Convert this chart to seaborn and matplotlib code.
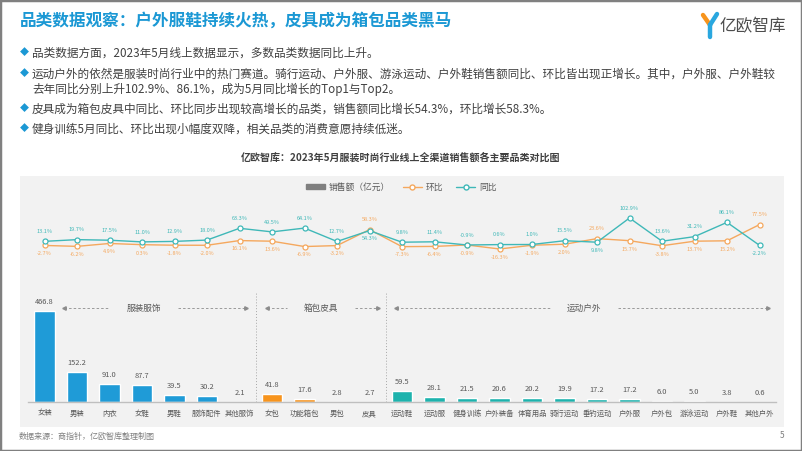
import numpy as np
import pandas as pd
import matplotlib.pyplot as plt
import matplotlib.patches as mpatches
from matplotlib.lines import Line2D
import seaborn as sns

W, H = 802, 451

categories = ["女装", "男装", "内衣", "女鞋", "男鞋", "服饰配件", "其他服饰",
              "女包", "功能箱包", "男包", "皮具",
              "运动鞋", "运动服", "健身训练", "户外装备", "体育用品", "骑行运动",
              "垂钓运动", "户外服", "户外包", "游泳运动", "户外鞋", "其他户外"]
groups = ["服装服饰"] * 7 + ["箱包皮具"] * 4 + ["运动户外"] * 12
sales = [466.8, 152.2, 91.0, 87.7, 39.5, 30.2, 2.1,
         41.8, 17.6, 2.8, 2.7,
         59.5, 28.1, 21.5, 20.6, 20.2, 19.9, 17.2, 17.2, 6.0, 5.0, 3.8, 0.6]
mom = [-2.7, -6.2, 4.9, 0.3, -1.8, -2.0, 16.1,
       13.6, -6.9, -3.2, 58.3,
       -7.3, -6.4, -0.9, -16.3, -1.9, 2.0, 23.6, 15.7, -3.8, 13.7, 15.2, 77.5]
yoy = [13.1, 19.7, 17.5, 11.0, 12.9, 18.0, 63.3,
       49.5, 64.1, 12.7, 54.3,
       9.8, 11.4, -0.9, 0.6, 1.0, 15.5, 9.8, 102.9, 13.6, 31.2, 86.1, -2.2]
section_names = ["服装服饰", "箱包皮具", "运动户外"]

bullets = [
    ["品类数据方面，2023年5月线上数据显示，多数品类数据同比上升。"],
    ["运动户外的依然是服装时尚行业中的热门赛道。骑行运动、户外服、游泳运动、户外鞋销售额同比、环比皆出现正增长。其中，户外服、户外鞋较",
     "去年同比分别上升102.9%、86.1%，成为5月同比增长的Top1与Top2。"],
    ["皮具成为箱包皮具中同比、环比同步出现较高增长的品类，销售额同比增长54.3%，环比增长58.3%。"],
    ["健身训练5月同比、环比出现小幅度双降，相关品类的消费意愿持续低迷。"],
]

BLUE = "#1f9bd7"
ORANGE = "#f7941d"
TEAL = "#1db3ad"
L_ORANGE = "#f5a85e"
L_TEAL = "#3fb8b8"
TXT = "#595959"
palette = {"服装服饰": BLUE, "箱包皮具": ORANGE, "运动户外": TEAL}

sns.set_theme(style="white")
plt.rcParams["font.family"] = ["Noto Sans CJK SC", "DejaVu Sans"]


def fx(px):
    return px / W


def fy(py):
    return 1 - py / H


df = pd.DataFrame({"cat": categories, "group": groups, "sales": sales,
                   "mom": mom, "yoy": yoy})
df["pos"] = np.arange(len(df))

fig = plt.figure(figsize=(W / 100, H / 100), dpi=100)
fig.patch.set_facecolor("white")

# grey chart panel + slide border
fig.add_artist(mpatches.Rectangle((fx(20), fy(427)), fx(784) - fx(20), fy(176) - fy(427),
                                  transform=fig.transFigure, facecolor="#f2f2f2",
                                  edgecolor="none", zorder=0))
fig.add_artist(mpatches.Rectangle((0, 0), 1, 1, transform=fig.transFigure, fill=False,
                                  edgecolor="#808080", lw=2.5, zorder=10))

# title + logo
fig.text(fx(20), fy(21), "品类数据观察：户外服鞋持续火热，皮具成为箱包品类黑马",
         fontsize=12, fontweight="bold", color="#1b98d4", va="center")
for (x0, y0, x1, y1, c) in [(703, 15, 710, 25, ORANGE), (717, 14, 710, 25, "#2aa7df"),
                            (710, 25, 710, 37, "#2aa7df")]:
    fig.add_artist(Line2D([fx(x0), fx(x1)], [fy(y0), fy(y1)], transform=fig.transFigure,
                          color=c, lw=3.2, solid_capstyle="round"))
fig.text(fx(719), fy(27), "亿欧智库", fontsize=12, color="#4d4d4d", va="center")

# bullets
yb = [53, 74, 109, 129]
for y, lines in zip(yb, bullets):
    fig.text(fx(20), fy(y), "◆", fontsize=6.5, color="#1b98d4", va="center")
    for k, line in enumerate(lines):
        fig.text(fx(32), fy(y + k * 15), line, fontsize=8.4, color="#404040", va="center")

fig.text(0.5, fy(158), "亿欧智库：2023年5月服装时尚行业线上全渠道销售额各主要品类对比图",
         fontsize=7.2, fontweight="bold", color="#404040", ha="center", va="center")

# bar chart
x_left, x_right = 28.25, 775.75
ax = fig.add_axes([fx(x_left), fy(402.3), fx(x_right) - fx(x_left), fy(292.4) - fy(402.3)])
ax.set_facecolor("none")
sns.barplot(data=df, x="cat", y="sales", hue="group", palette=palette, dodge=False,
            width=0.62, legend=False, ax=ax, saturation=1)
ax.set_xlim(-0.5, len(df) - 0.5)
ax.set_ylim(0, 560)
for i, v in enumerate(sales):
    ax.annotate(f"{v:.1f}", (i, v), xytext=(0, 6.5), textcoords="offset points",
                ha="center", va="center", fontsize=5.4, color=TXT)
for s in ["top", "right", "left"]:
    ax.spines[s].set_visible(False)
ax.spines["bottom"].set_color("#bfbfbf")
ax.spines["bottom"].set_linewidth(1)
ax.set_yticks([])
ax.set_xlabel("")
ax.set_ylabel("")
ax.tick_params(axis="x", length=0, pad=5.5, labelsize=5.3, labelcolor=TXT)

# section separators and arrows
bounds = [0] + list(np.cumsum(pd.Series(groups).value_counts(sort=False)[section_names].values))
for b in bounds[1:-1]:
    ax.axvline(b - 0.5, color="#a6a6a6", ls=(0, (1, 2)), lw=0.7)
spans = [(0.6, 6.2, 3.05), (6.85, 10.25, 8.5), (10.8, 22.25, 16.6)]
ysec = 480
for name, (a, b, c) in zip(section_names, spans):
    ax.text(c, ysec, name, ha="center", va="center", fontsize=6.2, color=TXT)
    gap = 1.05
    ax.plot([a, c - gap], [ysec, ysec], color="#8c8c8c", ls=(0, (3, 2.5)), lw=0.6)
    ax.plot([c + gap, b], [ysec, ysec], color="#8c8c8c", ls=(0, (3, 2.5)), lw=0.6)
    ax.plot([a], [ysec], marker="<", color="#8c8c8c", ms=2.5)
    ax.plot([b], [ysec], marker=">", color="#8c8c8c", ms=2.5)

# line chart
axl = fig.add_axes([fx(x_left), fy(255.15), fx(x_right) - fx(x_left), fy(210.95) - fy(255.15)])
axl.set_facecolor("none")
sns.lineplot(data=df, x="pos", y="mom", color=L_ORANGE, lw=1, marker="o", ms=3.6,
             mfc="white", mec=L_ORANGE, mew=0.9, ax=axl)
sns.lineplot(data=df, x="pos", y="yoy", color=L_TEAL, lw=1, marker="o", ms=3.6,
             mfc="white", mec=L_TEAL, mew=0.9, ax=axl)
axl.set_xlim(-0.5, len(df) - 0.5)
axl.set_ylim(-40, 130)
axl.axis("off")
for i, (m, y) in enumerate(zip(mom, yoy)):
    up = y >= m
    axl.annotate(f"{y:.1f}%", (i, y), xytext=(0, 7 if up else -6), textcoords="offset points",
                 ha="center", va="center", fontsize=4, color=L_TEAL)
    axl.annotate(f"{m:.1f}%", (i, m), xytext=(0, -6 if up else 7), textcoords="offset points",
                 ha="center", va="center", fontsize=4, color=L_ORANGE)

handles = [mpatches.Patch(color="#7f7f7f", label="销售额（亿元）"),
           Line2D([], [], color=L_ORANGE, marker="o", mfc="white", ms=3.6, lw=1, label="环比"),
           Line2D([], [], color=L_TEAL, marker="o", mfc="white", ms=3.6, lw=1, label="同比")]
fig.legend(handles=handles, loc="center", bbox_to_anchor=(0.5, fy(187)), ncol=3,
           frameon=False, fontsize=6.3, handlelength=2.2, handleheight=0.6,
           columnspacing=1.5, handletextpad=0.4, labelcolor=TXT)

fig.text(fx(19), fy(436), "数据来源：商指针，亿欧智库整理制图", fontsize=5.8, color="#7f7f7f",
         va="center")
fig.text(fx(780), fy(436), "5", fontsize=6, color="#7f7f7f", va="center")

fig.savefig("out.png", dpi=100)
